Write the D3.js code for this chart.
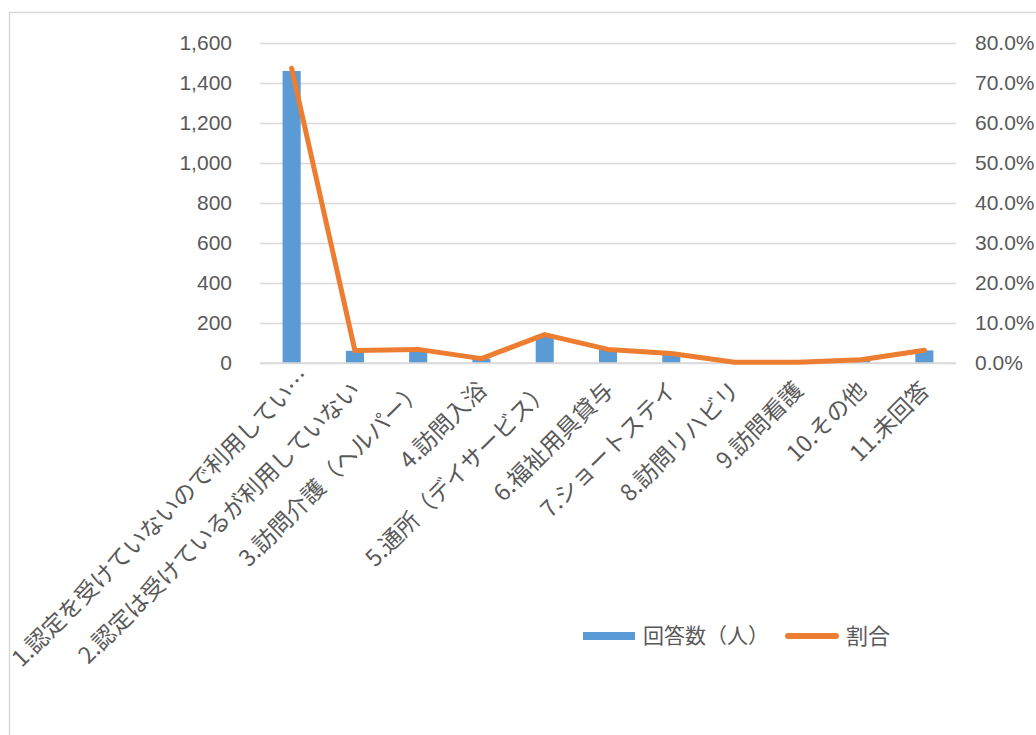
<!DOCTYPE html>
<html lang="ja">
<head>
<meta charset="utf-8">
<script src="https://cdn.jsdelivr.net/npm/d3@7"></script>
<style>
  html, body { margin: 0; padding: 0; background: #fff; }
  svg { display: block; font-family: "Noto Sans CJK JP", "Noto Sans", sans-serif; }
  text { fill: #595959; }
</style>
</head>
<body>
<svg id="chart" width="1036" height="735"></svg>
<script>
// 介護サービスの利用状況（回答数と割合）
const categories = [
  "1.認定を受けていないので利用してい…",
  "2.認定は受けているが利用していない",
  "3.訪問介護（ヘルパー）",
  "4.訪問入浴",
  "5.通所（デイサービス）",
  "6.福祉用具貸与",
  "7.ショートステイ",
  "8.訪問リハビリ",
  "9.訪問看護",
  "10.その他",
  "11.未回答"
];
const counts = [1460, 61, 68, 22, 140, 67, 47, 4, 4, 16, 63];
const shares = [0.737, 0.031, 0.034, 0.011, 0.071, 0.034, 0.024, 0.002, 0.002, 0.008, 0.032];
const countTicks = [0, 200, 400, 600, 800, 1000, 1200, 1400, 1600];
const shareTicks = [0, 0.1, 0.2, 0.3, 0.4, 0.5, 0.6, 0.7, 0.8];
const seriesNames = ["回答数（人）", "割合"];

const BLUE = "#5B9BD5", ORANGE = "#ED7D31", GRID = "#d9d9d9";
const FONT = 21, CAT_FONT = 23;

const svg = d3.select("#chart");

// outer frame of the chart area
svg.append("rect")
  .attr("x", 9.5).attr("y", 12.5)
  .attr("width", 1100).attr("height", 1000)
  .attr("fill", "none").attr("stroke", GRID).attr("stroke-width", 1.5);

const plotLeft = 260, plotRight = 956, plotTop = 43, plotBottom = 363;

const x = d3.scaleBand().domain(categories).range([plotLeft, plotRight]).padding(0);
const yCount = d3.scaleLinear().domain([0, 1600]).range([plotBottom, plotTop]);
const yShare = d3.scaleLinear().domain([0, 0.8]).range([plotBottom, plotTop]);

// horizontal gridlines
svg.append("g").attr("transform", `translate(${plotLeft},0)`)
  .call(d3.axisLeft(yCount).tickValues(countTicks).tickSize(-(plotRight - plotLeft)).tickFormat(""))
  .call(g => g.select(".domain").remove())
  .call(g => g.selectAll("line").attr("stroke", GRID).attr("stroke-width", 1.6));

// left axis labels (counts)
svg.append("g").attr("transform", "translate(236,0)")
  .call(d3.axisLeft(yCount).tickValues(countTicks).tickSize(0).tickPadding(4).tickFormat(d3.format(",")))
  .call(g => g.select(".domain").remove())
  .call(g => g.selectAll("text").attr("font-size", FONT).attr("font-family", null).attr("fill", "#595959"));

// right axis labels (shares)
svg.append("g").attr("transform", "translate(971,0)")
  .call(d3.axisRight(yShare).tickValues(shareTicks).tickSize(0).tickPadding(4).tickFormat(d3.format(".1%")))
  .call(g => g.select(".domain").remove())
  .call(g => g.selectAll("text").attr("font-size", FONT).attr("font-family", null).attr("fill", "#595959"));

// bars: gap width 250% of bar width
const barW = x.step() / 3.5;
svg.append("g").selectAll("rect").data(categories).join("rect")
  .attr("x", (d) => x(d) + x.bandwidth() / 2 - barW / 2)
  .attr("y", (d, i) => yCount(counts[i]))
  .attr("width", barW)
  .attr("height", (d, i) => yCount(0) - yCount(counts[i]))
  .attr("fill", BLUE);

// category axis line
svg.append("line")
  .attr("x1", plotLeft).attr("x2", plotRight)
  .attr("y1", yCount(0)).attr("y2", yCount(0))
  .attr("stroke", GRID).attr("stroke-width", 1.6);

// share line
const line = d3.line()
  .x((d, i) => x(categories[i]) + x.bandwidth() / 2)
  .y((d) => yShare(d));
svg.append("path").datum(shares)
  .attr("d", line)
  .attr("fill", "none").attr("stroke", ORANGE)
  .attr("stroke-width", 5).attr("stroke-linejoin", "round").attr("stroke-linecap", "round");

// rotated category labels; a truncated label lets its ellipsis run past the anchor
svg.append("g").selectAll("text").data(categories).join("text")
  .attr("transform", (d) => `translate(${x(d) + x.bandwidth() / 2 + 1},${plotBottom + 23}) rotate(-45)`)
  .attr("text-anchor", "end")
  .attr("dy", "0.35em")
  .attr("dx", (d) => d.endsWith("…") ? "0.8em" : 0)
  .attr("font-size", CAT_FONT)
  .text((d) => d);

// legend
const legend = svg.append("g");
legend.append("rect").attr("x", 583).attr("y", 632).attr("width", 52).attr("height", 8).attr("fill", BLUE);
legend.append("text").attr("x", 643).attr("y", 636).attr("dy", "0.35em").attr("font-size", FONT).text(seriesNames[0]);
legend.append("line").attr("x1", 788).attr("x2", 836).attr("y1", 636).attr("y2", 636)
  .attr("stroke", ORANGE).attr("stroke-width", 6).attr("stroke-linecap", "round");
legend.append("text").attr("x", 846).attr("y", 636).attr("dy", "0.35em").attr("font-size", 22).text(seriesNames[1]);
</script>
</body>
</html>
